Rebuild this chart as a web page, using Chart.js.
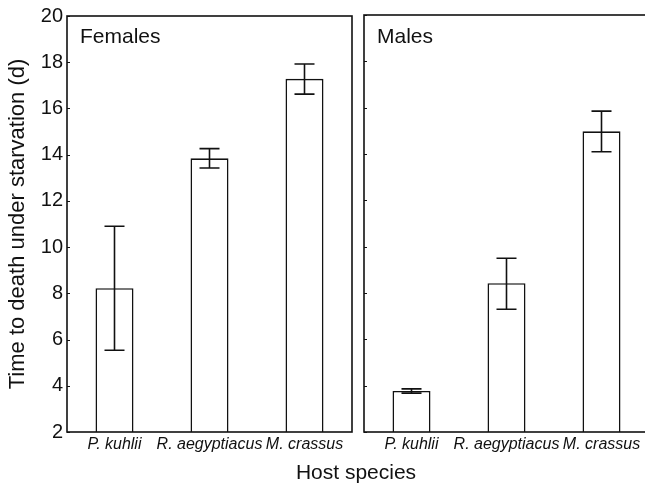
<!DOCTYPE html>
<html>
<head>
<meta charset="utf-8">
<script src="https://cdn.jsdelivr.net/npm/chart.js@4.4.1/dist/chart.umd.min.js"></script>
<style>
    html, body { margin: 0; padding: 0; background: #fff; overflow: hidden; width: 645px; height: 484px; }
    canvas { position: absolute; left: 0; top: 0; }
</style>
</head>
<body>
<canvas id="females" width="645" height="484"></canvas>
<canvas id="males" width="660" height="484"></canvas>
<script>
// Data
const hosts = ['P. kuhlii', 'R. aegyptiacus', 'M. crassus'];
const femaleMeans = [8.22, 13.84, 17.28];
const femaleLow = [5.54, 13.42, 16.62];
const femaleHigh = [10.9, 14.26, 17.92];
const maleMeans = [3.77, 8.42, 14.98];
const maleLow = [3.68, 7.3, 14.1];
const maleHigh = [3.86, 9.5, 15.85];
const yMin = 2;
const yMax = 20;
const yStep = 2;

const FONT = "'Liberation Sans', Arial, sans-serif";
const INK = '#111';

// Frame, inside ticks, error bars and panel labels
const panelDecor = {
    id: 'panelDecor',
    afterDatasetsDraw(chart, args, opts) {
        const ctx = chart.ctx;
        const area = chart.chartArea;
        const y = chart.scales.y;
        ctx.save();
        ctx.strokeStyle = INK;
        ctx.lineWidth = 1.6;

        // error bars
        const meta = chart.getDatasetMeta(0);
        meta.data.forEach((bar, i) => {
            const yHi = y.getPixelForValue(opts.high[i]);
            const yLo = y.getPixelForValue(opts.low[i]);
            ctx.beginPath();
            ctx.moveTo(bar.x, yHi);
            ctx.lineTo(bar.x, yLo);
            ctx.moveTo(bar.x - 10, yHi);
            ctx.lineTo(bar.x + 10, yHi);
            ctx.moveTo(bar.x - 10, yLo);
            ctx.lineTo(bar.x + 10, yLo);
            ctx.stroke();
        });

        // box round the panel
        ctx.strokeRect(area.left, area.top, area.right - area.left, area.bottom - area.top);

        // small ticks pointing inwards
        ctx.lineWidth = 1;
        y.ticks.forEach(t => {
            const py = Math.round(y.getPixelForValue(t.value)) + 0.5;
            ctx.beginPath();
            ctx.moveTo(area.left, py);
            ctx.lineTo(area.left + 3, py);
            ctx.stroke();
        });

        // panel label
        ctx.fillStyle = INK;
        ctx.font = '21px ' + FONT;
        ctx.textBaseline = 'middle';
        ctx.textAlign = 'left';
        ctx.fillText(opts.label, area.left + 13, 37);

        if (opts.xTitle) {
            ctx.font = '21px ' + FONT;
            ctx.textAlign = 'center';
            ctx.fillText(opts.xTitle, 356, 473);
        }
        ctx.restore();
    }
};

function makePanel(canvasId, means, low, high, label, padding, showYAxis, xTitle) {
    return new Chart(document.getElementById(canvasId), {
        type: 'bar',
        data: {
            labels: hosts,
            datasets: [{
                data: means,
                backgroundColor: '#fff',
                borderColor: INK,
                borderWidth: 1.6,
                borderSkipped: false,
                categoryPercentage: 1,
                barPercentage: 0.4
            }]
        },
        options: {
            responsive: false,
            animation: false,
            layout: { padding: padding },
            plugins: {
                legend: { display: false },
                tooltip: { enabled: false },
                panelDecor: { label: label, low: low, high: high, xTitle: xTitle }
            },
            scales: {
                x: {
                    grid: { display: false, drawTicks: false },
                    border: { display: false },
                    ticks: {
                        color: INK,
                        padding: 3,
                        maxRotation: 0,
                        autoSkip: false,
                        font: { family: FONT, size: 16, style: 'italic' }
                    },
                    afterFit: s => { s.height = 52; }
                },
                y: {
                    min: yMin,
                    max: yMax,
                    grid: { display: false, drawTicks: false },
                    border: { display: false },
                    ticks: {
                        display: showYAxis,
                        stepSize: yStep,
                        color: INK,
                        padding: 4,
                        font: { family: FONT, size: 20 }
                    },
                    title: {
                        display: showYAxis,
                        text: 'Time to death under starvation (d)',
                        color: INK,
                        padding: { top: 5, bottom: 0 },
                        font: { family: FONT, size: 22 }
                    },
                    afterFit: s => { s.width = showYAxis ? 67 : 0; }
                }
            }
        },
        plugins: [panelDecor]
    });
}

makePanel('females', femaleMeans, femaleLow, femaleHigh, 'Females',
    { left: 0, right: 293, top: 15, bottom: 0 }, true, 'Host species');
makePanel('males', maleMeans, maleLow, maleHigh, 'Males',
    { left: 364, right: 11, top: 15, bottom: 0 }, false, null);
</script>
</body>
</html>
